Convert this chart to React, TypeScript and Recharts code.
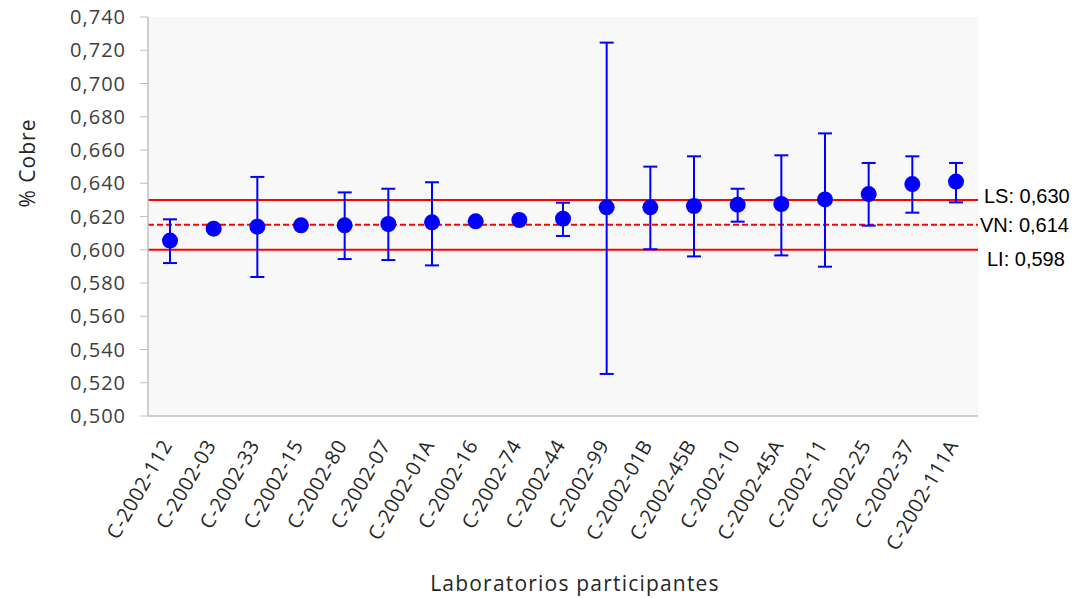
import React from 'react'
import {
  ComposedChart,
  Line,
  ErrorBar,
  XAxis,
  YAxis,
  CartesianGrid,
  ReferenceLine,
} from 'recharts'

// laboratorios participantes (orden del grafico)
const labs = [
  'C-2002-112', 'C-2002-03', 'C-2002-33', 'C-2002-15', 'C-2002-80',
  'C-2002-07', 'C-2002-01A', 'C-2002-16', 'C-2002-74', 'C-2002-44',
  'C-2002-99', 'C-2002-01B', 'C-2002-45B', 'C-2002-10', 'C-2002-45A',
  'C-2002-11', 'C-2002-25', 'C-2002-37', 'C-2002-111A',
]

// % Cobre informado por cada laboratorio
const valores = [
  0.6055, 0.6127, 0.6139, 0.6147, 0.6147,
  0.6155, 0.6165, 0.6171, 0.6179, 0.6187,
  0.6255, 0.6255, 0.6263, 0.6271, 0.6275,
  0.6303, 0.6335, 0.6395, 0.641,
]

// limites de la barra de incertidumbre (inferior / superior)
const limInf = [
  0.592, 0.6127, 0.5836, 0.6147, 0.5944,
  0.5938, 0.5906, 0.6171, 0.6179, 0.6083,
  0.5253, 0.6003, 0.596, 0.6169, 0.5966,
  0.5898, 0.6145, 0.6223, 0.6285,
]
const limSup = [
  0.6183, 0.6127, 0.6438, 0.6147, 0.6345,
  0.6367, 0.6406, 0.6171, 0.6179, 0.6283,
  0.7246, 0.65, 0.6562, 0.6367, 0.6568,
  0.67, 0.6522, 0.6562, 0.6522,
]

const yTicks = [0.5, 0.52, 0.54, 0.56, 0.58, 0.6, 0.62, 0.64, 0.66, 0.68, 0.7, 0.72, 0.74]

// lineas de referencia: posicion en el grafico y rotulo
const refLines = [
  { y: 0.63, label: 'LS: 0,630', dashed: false, dx: 6, dy: -4 },
  { y: 0.615, label: 'VN: 0,614', dashed: true, dx: 2, dy: 0 },
  { y: 0.6, label: 'LI: 0,598', dashed: false, dx: 9, dy: 9 },
]

const data = labs.map((lab, i) => ({
  lab,
  valor: valores[i],
  err: [valores[i] - limInf[i], limSup[i] - valores[i]],
}))

const font = '"Open Sans", sans-serif'
const fmt = (v: number) => v.toFixed(3).replace('.', ',')

const XTick = (props: any) => {
  const { x, y, payload } = props
  return (
    <g transform={`translate(${x + 3},${y + 21})`}>
      <text
        textAnchor="end"
        transform="rotate(-60)"
        fontSize={20}
        letterSpacing={0.5}
        fill="#262626"
        fontFamily={font}
      >
        {payload.value}
      </text>
    </g>
  )
}

const RefLabel = (text: string, dx: number, dy: number) => (props: any) => {
  const { viewBox } = props
  return (
    <text
      x={viewBox.x + viewBox.width + dx}
      y={viewBox.y + dy}
      dy="0.35em"
      fontSize={20}
      fill="#000"
      fontFamily='"Liberation Sans", Arial, sans-serif'
    >
      {text}
    </text>
  )
}

export default function App() {
  return (
    <div style={{ position: 'absolute', top: 0, left: 0, background: '#fff' }}>
      <ComposedChart
        width={1081}
        height={598}
        data={data}
        margin={{ top: 17, right: 103, bottom: 0, left: 0 }}
      >
        <CartesianGrid horizontal={false} vertical={false} fill="#f8f8f8" />
        <XAxis
          dataKey="lab"
          height={182}
          interval={0}
          padding={{ left: 22, right: 22 }}
          tickLine={false}
          axisLine={{ stroke: '#bfbfbf', strokeWidth: 1.5 }}
          tick={<XTick />}
        />
        <YAxis
          width={148}
          domain={[0.5, 0.74]}
          ticks={yTicks}
          interval={0}
          tickFormatter={fmt}
          tickSize={8}
          tickMargin={14}
          tickLine={{ stroke: '#bfbfbf' }}
          axisLine={{ stroke: '#bfbfbf', strokeWidth: 1.5 }}
          tick={{ fontSize: 20, letterSpacing: 1, fill: '#404040', fontFamily: font }}
        />
        {refLines.map((r) => (
          <ReferenceLine
            key={r.label}
            y={r.y}
            stroke="#ff0000"
            strokeWidth={2}
            strokeDasharray={r.dashed ? '6 3' : undefined}
            label={RefLabel(r.label, r.dx, r.dy)}
          />
        ))}
        <Line
          dataKey="valor"
          stroke="none"
          isAnimationActive={false}
          dot={{ r: 8, fill: '#0000ff', stroke: 'none' }}
          activeDot={false}
        >
          <ErrorBar dataKey="err" direction="y" width={7} stroke="#0000ff" strokeWidth={2} />
        </Line>
        <text
          x={27}
          y={163}
          transform="rotate(-90 27 163)"
          textAnchor="middle"
          dominantBaseline="central"
          fontSize={21}
          letterSpacing={1}
          fill="#262626"
          fontFamily={font}
        >
          % Cobre
        </text>
        <text
          x={575}
          y={583}
          textAnchor="middle"
          dominantBaseline="central"
          fontSize={21}
          letterSpacing={1.2}
          fill="#262626"
          fontFamily={font}
        >
          Laboratorios participantes
        </text>
      </ComposedChart>
    </div>
  )
}
